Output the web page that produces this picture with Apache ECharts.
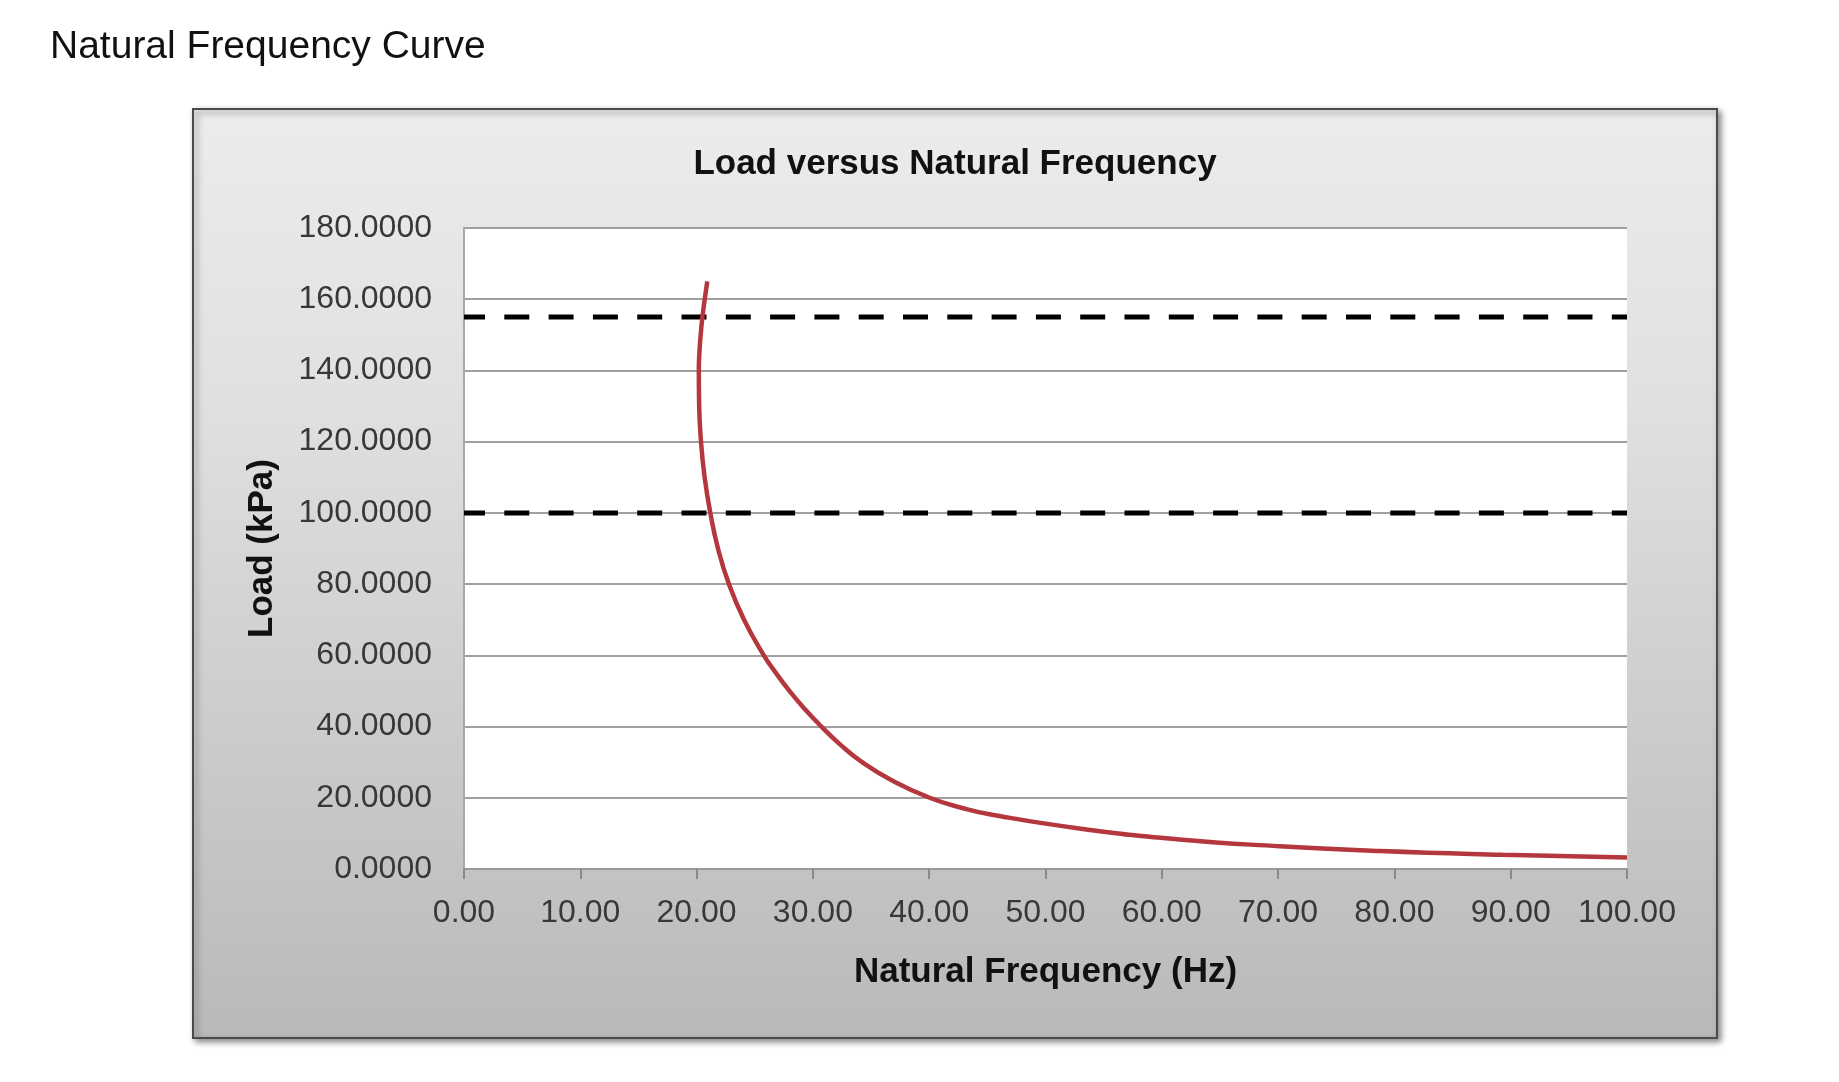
<!DOCTYPE html>
<html>
<head>
<meta charset="utf-8">
<style>
  html, body { margin: 0; padding: 0; background: #ffffff; }
  #chart { width: 1839px; height: 1082px; }
</style>
<script src="https://cdn.jsdelivr.net/npm/echarts@6/dist/echarts.min.js"></script>
</head>
<body>
<div id="chart"></div>
<script>
// ---- data ----
const pageTitle = 'Natural Frequency Curve';
const chartTitle = 'Load versus Natural Frequency';
const xAxisName = 'Natural Frequency (Hz)';
const yAxisName = 'Load (kPa)';

// curve points, ordered along the curve (frequency in Hz, load in kPa)
const freqHz  = [20.92, 20.70, 20.50, 20.35, 20.24, 20.19, 20.22, 20.38, 20.69, 21.18, 21.84, 22.78, 24.08, 25.78, 26.83, 27.98, 29.28, 30.73, 32.33, 34.23, 36.73, 40.04, 43.00, 45.30, 52.90, 61.50, 70.10, 78.80, 89.30, 100.00];
const loadKPa = [165.0, 160.0, 155.0, 150.0, 145.0, 140.0, 130.0, 120.0, 110.0, 100.0, 90.0, 80.0, 70.0, 60.0, 55.0, 50.0, 45.0, 40.0, 35.0, 30.0, 25.0, 20.0, 17.0, 15.3, 11.4, 8.30, 6.40, 5.06, 4.00, 3.20];

// horizontal dashed limit lines (kPa)
const limitLoads = [155, 100];

// tick labels
const xTickValues = [0, 10, 20, 30, 40, 50, 60, 70, 80, 90, 100];
const xTickLabels = ['0.00', '10.00', '20.00', '30.00', '40.00', '50.00', '60.00', '70.00', '80.00', '90.00', '100.00'];
const yTickValues = [0, 20, 40, 60, 80, 100, 120, 140, 160, 180];
const yTickLabels = ['0.0000', '20.0000', '40.0000', '60.0000', '80.0000', '100.0000', '120.0000', '140.0000', '160.0000', '180.0000'];

// ---- chart ----
const chart = echarts.init(document.getElementById('chart'), null, { renderer: 'canvas' });

const curveData = freqHz.map((f, i) => [f, loadKPa[i]]);
const FONT = '"Liberation Sans", Arial, sans-serif';

const limitSeries = limitLoads.map((v) => ({
  type: 'line',
  data: [[xTickValues[0], v], [xTickValues[xTickValues.length - 1], v]],
  showSymbol: false,
  silent: true,
  z: 3,
  lineStyle: { color: '#000000', width: 5, type: [25, 19.3], cap: 'butt', dashOffset: 4 }
}));

const option = {
  backgroundColor: '#ffffff',
  animation: false,
  graphic: [{
    type: 'rect',
    z: -10,
    shape: { x: 193, y: 109, width: 1524, height: 929 },
    style: {
      fill: {
        type: 'linear', x: 0, y: 0, x2: 0, y2: 1,
        colorStops: [
          { offset: 0, color: '#ececec' },
          { offset: 0.3, color: '#e1e1e1' },
          { offset: 1, color: '#b9b9b9' }
        ]
      },
      stroke: '#4a4a4a',
      lineWidth: 2,
      shadowBlur: 6,
      shadowOffsetX: 3,
      shadowOffsetY: 3,
      shadowColor: 'rgba(0,0,0,0.45)'
    }
  }],
  title: [
    {
      text: pageTitle,
      left: 50, top: 28, padding: 0,
      textStyle: { fontFamily: FONT, fontSize: 39, fontWeight: 'normal', color: '#111111' }
    },
    {
      text: chartTitle,
      left: 955, top: 147, padding: 0, textAlign: 'center',
      textStyle: { fontFamily: FONT, fontSize: 35, fontWeight: 'bold', color: '#111111' }
    }
  ],
  grid: {
    left: 464, top: 228, width: 1163, height: 641,
    show: true, backgroundColor: '#ffffff', borderWidth: 0
  },
  xAxis: {
    type: 'value',
    min: 0, max: 100, interval: 10,
    name: xAxisName,
    nameLocation: 'middle',
    nameGap: 86,
    nameTextStyle: { fontFamily: FONT, fontSize: 35, fontWeight: 'bold', color: '#111111' },
    axisLine: { show: true, onZero: false, lineStyle: { color: '#9a9a9a', width: 2 } },
    axisTick: { show: true, length: 10, inside: false, lineStyle: { color: '#8a8a8a', width: 2 } },
    axisLabel: {
      margin: 28, fontFamily: FONT, fontSize: 32, color: '#383838',
      formatter: (v) => xTickLabels[xTickValues.indexOf(Math.round(v))]
    },
    splitLine: { show: false }
  },
  yAxis: {
    type: 'value',
    min: 0, max: 180, interval: 20,
    name: yAxisName,
    nameLocation: 'middle',
    nameRotate: 90,
    nameGap: 184,
    nameTextStyle: { fontFamily: FONT, fontSize: 35, fontWeight: 'bold', color: '#111111' },
    axisLine: { show: true, lineStyle: { color: '#a8a8a8', width: 2 } },
    axisTick: { show: false },
    axisLabel: {
      margin: 32, fontFamily: FONT, fontSize: 32, color: '#383838',
      formatter: (v) => yTickLabels[yTickValues.indexOf(Math.round(v))]
    },
    splitLine: { show: true, lineStyle: { color: '#a0a0a0', width: 2 } }
  },
  series: [
    ...limitSeries,
    {
      type: 'line',
      data: curveData,
      showSymbol: false,
      smooth: 0.5,
      z: 4,
      lineStyle: { color: '#b5373e', width: 4.5 }
    }
  ]
};

chart.setOption(option);
</script>
</body>
</html>
